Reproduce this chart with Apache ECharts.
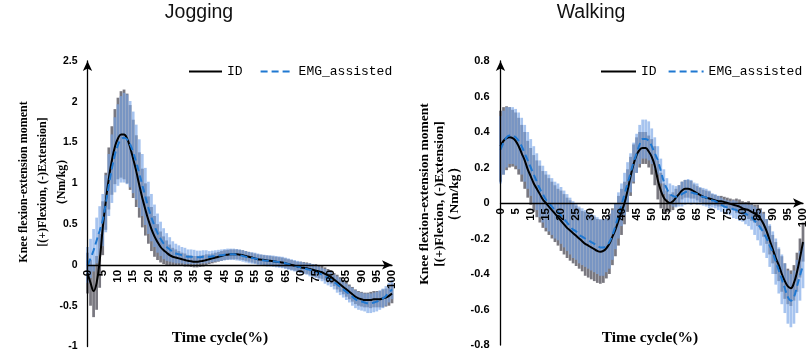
<!DOCTYPE html>
<html><head><meta charset="utf-8">
<script src="https://cdn.jsdelivr.net/npm/echarts@6/dist/echarts.min.js"></script>
<style>html,body{margin:0;padding:0;background:#fff}#c{width:809px;height:352px}</style>
</head><body><div id="c"></div>
<script>
// Time cycle (%) – one sample per percent
const timeCycle = [0,1,2,3,4,5,6,7,8,9,10,11,12,13,14,15,16,17,18,19,20,21,22,23,24,25,26,27,28,29,30,31,32,33,34,35,36,37,38,39,40,41,42,43,44,45,46,47,48,49,50,51,52,53,54,55,56,57,58,59,60,61,62,63,64,65,66,67,68,69,70,71,72,73,74,75,76,77,78,79,80,81,82,83,84,85,86,87,88,89,90,91,92,93,94,95,96,97,98,99,100];

// Jogging – ID mean and SD
const jogID = [
 -0.10,-0.22,-0.32,-0.22,0.05,0.45,0.78,1.06,1.28,1.45,
 1.55,1.60,1.60,1.55,1.44,1.30,1.15,0.98,0.82,0.68,
 0.55,0.44,0.35,0.28,0.22,0.18,0.15,0.12,0.10,0.09,
 0.08,0.07,0.06,0.05,0.045,0.04,0.04,0.045,0.05,0.06,
 0.07,0.08,0.09,0.10,0.11,0.12,0.125,0.13,0.13,0.13,
 0.125,0.12,0.11,0.10,0.09,0.08,0.07,0.065,0.06,0.055,
 0.05,0.045,0.04,0.035,0.03,0.02,0.01,0.0,-0.01,-0.02,
 -0.03,-0.035,-0.04,-0.05,-0.06,-0.07,-0.08,-0.09,-0.11,-0.13,
 -0.15,-0.18,-0.21,-0.24,-0.27,-0.30,-0.33,-0.36,-0.39,-0.41,
 -0.42,-0.43,-0.43,-0.43,-0.42,-0.42,-0.42,-0.41,-0.40,-0.38,
 -0.35];
const jogIDsd = [
 0.25,0.28,0.32,0.33,0.33,0.33,0.35,0.38,0.42,0.46,
 0.50,0.53,0.55,0.55,0.52,0.48,0.44,0.40,0.36,0.32,
 0.29,0.27,0.25,0.22,0.19,0.17,0.15,0.13,0.11,0.10,
 0.09,0.08,0.08,0.07,0.07,0.07,0.07,0.07,0.07,0.07,
 0.06,0.06,0.06,0.06,0.06,0.06,0.06,0.06,0.06,0.06,
 0.06,0.06,0.06,0.06,0.06,0.06,0.06,0.06,0.06,0.06,
 0.06,0.06,0.06,0.06,0.06,0.06,0.06,0.06,0.06,0.06,
 0.07,0.07,0.07,0.07,0.07,0.08,0.08,0.08,0.08,0.08,
 0.08,0.08,0.09,0.09,0.09,0.09,0.09,0.09,0.09,0.09,
 0.09,0.09,0.09,0.10,0.10,0.10,0.10,0.11,0.11,0.12,
 0.12];
// Jogging – EMG_assisted mean and SD
const jogEMG = [
 0.00,0.08,0.18,0.30,0.42,0.55,0.75,0.98,1.18,1.35,
 1.47,1.54,1.56,1.54,1.48,1.38,1.26,1.12,0.98,0.84,
 0.70,0.58,0.48,0.39,0.32,0.26,0.22,0.19,0.16,0.14,
 0.13,0.12,0.11,0.10,0.10,0.095,0.095,0.095,0.10,0.10,
 0.10,0.105,0.11,0.115,0.12,0.125,0.13,0.13,0.13,0.125,
 0.12,0.11,0.10,0.09,0.085,0.08,0.07,0.06,0.055,0.05,
 0.05,0.045,0.04,0.035,0.03,0.02,0.01,0.0,-0.01,-0.02,
 -0.03,-0.04,-0.05,-0.06,-0.07,-0.08,-0.10,-0.12,-0.14,-0.16,
 -0.18,-0.21,-0.24,-0.27,-0.30,-0.33,-0.36,-0.39,-0.42,-0.44,
 -0.45,-0.46,-0.47,-0.47,-0.46,-0.45,-0.43,-0.41,-0.38,-0.34,
 -0.30];
const jogEMGsd = [
 0.22,0.24,0.26,0.28,0.30,0.32,0.35,0.38,0.42,0.46,
 0.50,0.53,0.55,0.55,0.53,0.50,0.46,0.42,0.38,0.35,
 0.32,0.29,0.26,0.24,0.21,0.19,0.17,0.15,0.13,0.12,
 0.11,0.10,0.10,0.09,0.09,0.09,0.08,0.08,0.08,0.08,
 0.07,0.07,0.07,0.07,0.07,0.07,0.07,0.07,0.07,0.07,
 0.07,0.07,0.07,0.07,0.07,0.07,0.07,0.07,0.07,0.07,
 0.07,0.07,0.07,0.07,0.07,0.07,0.07,0.07,0.07,0.07,
 0.07,0.07,0.07,0.08,0.08,0.08,0.08,0.08,0.09,0.09,
 0.09,0.09,0.10,0.10,0.10,0.10,0.10,0.11,0.11,0.11,
 0.11,0.11,0.12,0.12,0.12,0.12,0.12,0.12,0.12,0.12,
 0.12];

// Walking – ID mean and SD
const walkID = [
 0.32,0.35,0.365,0.37,0.365,0.35,0.32,0.28,0.24,0.19,
 0.15,0.11,0.08,0.05,0.02,0.0,-0.02,-0.04,-0.06,-0.08,
 -0.10,-0.12,-0.14,-0.155,-0.17,-0.185,-0.20,-0.215,-0.23,-0.24,
 -0.25,-0.26,-0.27,-0.275,-0.27,-0.255,-0.23,-0.19,-0.15,-0.10,
 -0.05,0.0,0.07,0.15,0.22,0.27,0.30,0.31,0.31,0.29,
 0.26,0.21,0.13,0.07,0.03,0.01,0.0,0.01,0.03,0.05,
 0.07,0.08,0.08,0.075,0.065,0.055,0.045,0.035,0.03,0.025,
 0.02,0.015,0.01,0.01,0.005,0.0,-0.005,-0.01,-0.015,-0.02,
 -0.03,-0.035,-0.04,-0.05,-0.06,-0.07,-0.09,-0.12,-0.16,-0.21,
 -0.26,-0.31,-0.35,-0.40,-0.44,-0.47,-0.48,-0.45,-0.39,-0.31,
 -0.22];
const walkIDsd = [
 0.20,0.19,0.18,0.17,0.16,0.16,0.16,0.16,0.16,0.16,
 0.16,0.16,0.16,0.16,0.16,0.16,0.16,0.16,0.16,0.16,
 0.17,0.17,0.17,0.17,0.17,0.17,0.17,0.17,0.18,0.18,
 0.18,0.18,0.18,0.18,0.18,0.17,0.17,0.16,0.15,0.14,
 0.13,0.12,0.12,0.11,0.11,0.10,0.10,0.09,0.09,0.09,
 0.10,0.11,0.11,0.10,0.08,0.06,0.05,0.05,0.05,0.05,
 0.05,0.05,0.05,0.05,0.04,0.04,0.04,0.04,0.04,0.04,
 0.03,0.03,0.03,0.03,0.03,0.03,0.03,0.03,0.04,0.04,
 0.04,0.04,0.05,0.05,0.05,0.06,0.06,0.07,0.07,0.08,
 0.08,0.09,0.09,0.10,0.10,0.10,0.10,0.10,0.11,0.11,
 0.11];
// Walking – EMG_assisted mean and SD
const walkEMG = [
 0.30,0.34,0.37,0.38,0.38,0.37,0.35,0.32,0.28,0.24,
 0.20,0.16,0.12,0.08,0.05,0.02,0.0,-0.02,-0.04,-0.05,
 -0.07,-0.09,-0.11,-0.13,-0.15,-0.16,-0.18,-0.19,-0.20,-0.21,
 -0.22,-0.23,-0.24,-0.25,-0.25,-0.24,-0.22,-0.18,-0.13,-0.07,
 -0.01,0.05,0.11,0.17,0.23,0.28,0.33,0.36,0.36,0.35,
 0.32,0.28,0.24,0.18,0.12,0.08,0.05,0.04,0.035,0.04,
 0.05,0.06,0.065,0.06,0.055,0.05,0.04,0.035,0.03,0.02,
 0.015,0.01,0.0,-0.01,-0.02,-0.025,-0.03,-0.035,-0.04,-0.05,
 -0.055,-0.06,-0.07,-0.08,-0.10,-0.12,-0.14,-0.17,-0.20,-0.24,
 -0.28,-0.33,-0.38,-0.43,-0.48,-0.53,-0.55,-0.53,-0.47,-0.41,
 -0.35];
const walkEMGsd = [
 0.19,0.18,0.17,0.16,0.16,0.16,0.16,0.16,0.16,0.16,
 0.16,0.16,0.16,0.16,0.16,0.16,0.16,0.16,0.16,0.16,
 0.16,0.16,0.16,0.16,0.16,0.16,0.16,0.16,0.16,0.16,
 0.16,0.16,0.16,0.16,0.16,0.15,0.15,0.14,0.13,0.13,
 0.12,0.12,0.12,0.11,0.11,0.11,0.11,0.11,0.11,0.11,
 0.10,0.09,0.08,0.07,0.07,0.06,0.06,0.06,0.06,0.06,
 0.07,0.07,0.07,0.07,0.06,0.06,0.05,0.05,0.05,0.05,
 0.04,0.04,0.04,0.04,0.04,0.04,0.04,0.05,0.05,0.05,
 0.05,0.06,0.06,0.07,0.08,0.09,0.10,0.11,0.11,0.12,
 0.12,0.13,0.13,0.14,0.14,0.15,0.15,0.15,0.15,0.14,
 0.13];

const seriesNames = ['ID', 'EMG_assisted'];
const chartTitles = ['Jogging', 'Walking'];
const yTitle = 'Knee flexion-extension moment\n[(+)Flexion, (-)Extension]\n（Nm/kg）';
const xTitle = 'Time cycle(%)';

const GREY = 'rgba(92,90,100,0.82)';
const BLUE = 'rgba(120,165,230,0.65)';
const LINE_BLUE = '#1f78d1';

// grid geometry (pixels)
const G = [
  {left:87.5, right:417, top:61, bottom:5.5, yMin:-1, yMax:2.5, yInt:0.5},
  {left:500.5, right:6, top:61, bottom:7, yMin:-0.8, yMax:0.8, yInt:0.2}
];
const H = 352;
function zeroOffset(g){
  const h = H - g.top - g.bottom;
  return -h * (0 - g.yMin) / (g.yMax - g.yMin);
}

function pairs(vals){ return timeCycle.map((t,i)=>[t, vals[i]]); }
function band(mean, sd){ return timeCycle.map((t,i)=>[t, mean[i]-sd[i], mean[i]+sd[i]]); }
function bandRender(color){
  return function(params, api){
    const x = api.value(0), lo = api.value(1), hi = api.value(2);
    const p1 = api.coord([x, hi]), p2 = api.coord([x, lo]);
    const w = api.size([1, 0])[0] * 0.9;
    return {type:'rect', shape:{x:p1[0]-w/2, y:p1[1], width:w, height:p2[1]-p1[1]}, style:{fill:color}};
  };
}
function bandSeries(idx, mean, sd, color){
  return {type:'custom', xAxisIndex:idx, yAxisIndex:idx, renderItem:bandRender(color),
    encode:{x:0, y:[1,2]}, data:band(mean, sd), silent:true, z:1};
}
function lineSeries(idx, name, vals, color, type){
  return {type:'line', name, xAxisIndex:idx, yAxisIndex:idx, data:pairs(vals), symbol:'none', showSymbol:false,
    smooth:0.4, color, lineStyle:{color, width:2, type}, z:3};
}
function xAxisCfg(idx, fs){
  return {type:'value', gridIndex:idx, min:0, max:100, interval:5, position:'bottom', offset:zeroOffset(G[idx]), z:5,
    axisLine:{show:true, onZero:false, lineStyle:{color:'#000', width:1.3}, symbol:['none','arrow'], symbolSize:[7,10]},
    axisTick:{show:false}, splitLine:{show:false},
    axisLabel:{rotate:90, fontSize:fs, fontWeight:'bold', color:'#000', margin:5, fontFamily:'Liberation Sans'}};
}
function yAxisCfg(idx, fs, margin){
  const g = G[idx];
  return {type:'value', gridIndex:idx, min:g.yMin, max:g.yMax, interval:g.yInt, z:5,
    axisLine:{show:true, onZero:false, lineStyle:{color:'#000', width:1.3}, symbol:['none','arrow'], symbolSize:[7,10]},
    axisTick:{show:false}, splitLine:{show:false},
    axisLabel:{fontSize:fs, fontWeight:'bold', color:'#000', margin, fontFamily:'Liberation Sans'}};
}
const legendText = {fontFamily:'Liberation Mono', fontSize:13, color:'#000'};

const chart = echarts.init(document.getElementById('c'), null, {renderer:'canvas'});
chart.setOption({
  animation:false,
  backgroundColor:'#fff',
  grid:G.map(g=>({left:g.left, right:g.right, top:g.top, bottom:g.bottom, outerBoundsMode:'none', containLabel:false})),
  xAxis:[xAxisCfg(0, 11.5), xAxisCfg(1, 11.5)],
  yAxis:[yAxisCfg(0, 10.5, 10), yAxisCfg(1, 11, 11)],
  legend:[
    {data:seriesNames, left:188, top:65, padding:0, width:260, itemWidth:33, itemHeight:14, itemGap:17,
     itemStyle:{opacity:0}, textStyle:legendText},
    {data:seriesNames, left:600, top:65, padding:0, width:209, itemWidth:35, itemHeight:14, itemGap:11,
     itemStyle:{opacity:0}, textStyle:legendText}
  ],
  series:[
    bandSeries(0, jogID, jogIDsd, GREY),
    bandSeries(0, jogEMG, jogEMGsd, BLUE),
    lineSeries(0, seriesNames[0], jogID, '#000', 'solid'),
    lineSeries(0, seriesNames[1], jogEMG, LINE_BLUE, [7,4]),
    bandSeries(1, walkID, walkIDsd, GREY),
    bandSeries(1, walkEMG, walkEMGsd, BLUE),
    lineSeries(1, seriesNames[0], walkID, '#000', 'solid'),
    lineSeries(1, seriesNames[1], walkEMG, LINE_BLUE, [7,4])
  ],
  graphic:[
    {type:'text', x:199, y:13, style:{text:chartTitles[0], font:'19.5px "Liberation Sans", Arial, sans-serif', fill:'#111', textAlign:'center', textVerticalAlign:'middle'}},
    {type:'text', x:591, y:13, style:{text:chartTitles[1], font:'19.5px "Liberation Sans", Arial, sans-serif', fill:'#111', textAlign:'center', textVerticalAlign:'middle'}},
    {type:'text', x:43, y:182, rotation:Math.PI/2, style:{text:yTitle, font:'bold 12px "Liberation Serif", serif', lineHeight:19, fill:'#000', textAlign:'center', textVerticalAlign:'middle'}},
    {type:'text', x:440, y:194, rotation:Math.PI/2, style:{text:yTitle, font:'bold 13.5px "Liberation Serif", serif', lineHeight:15, fill:'#000', textAlign:'center', textVerticalAlign:'middle'}},
    {type:'text', x:220, y:338, style:{text:xTitle, font:'bold 15.5px "Liberation Serif", serif', fill:'#000', textAlign:'center', textVerticalAlign:'middle'}},
    {type:'text', x:650, y:338, style:{text:xTitle, font:'bold 15.5px "Liberation Serif", serif', fill:'#000', textAlign:'center', textVerticalAlign:'middle'}}
  ]
});
</script>
</body></html>
